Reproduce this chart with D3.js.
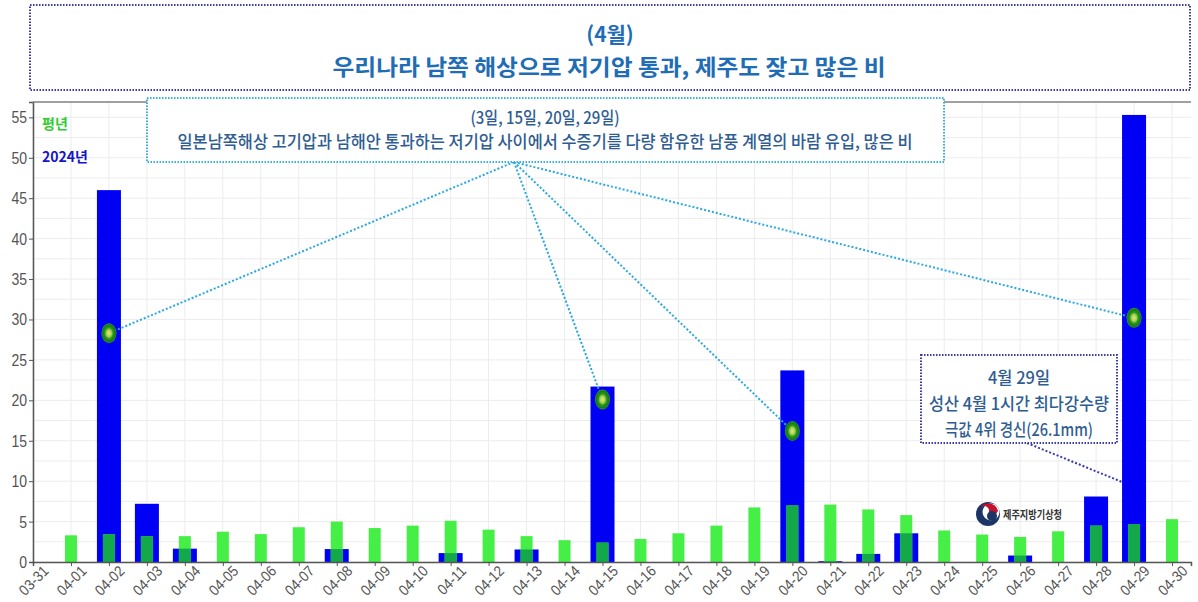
<!DOCTYPE html>
<html>
<head>
<meta charset="utf-8">
<script src="https://cdn.jsdelivr.net/npm/d3@7"></script>
<style>
  body { margin: 0; background: #fff; }
  svg { display: block; }
</style>
</head>
<body>
<svg id="chart" width="1198" height="602"></svg>
<script>
// ---- data ----
let days = ["03-31", "04-01", "04-02", "04-03", "04-04", "04-05", "04-06", "04-07", "04-08",
  "04-09", "04-10", "04-11", "04-12", "04-13", "04-14", "04-15", "04-16", "04-17", "04-18",
  "04-19", "04-20", "04-21", "04-22", "04-23", "04-24", "04-25", "04-26", "04-27", "04-28",
  "04-29", "04-30"];

// bars start at 04-01
let barDays = days.slice(1);
let normalRain = [3.3, 3.45, 3.2, 3.2, 3.75, 3.45, 4.3, 5.0, 4.2, 4.5, 5.1, 4.0, 3.2, 2.7, 2.4,
  2.85, 3.55, 4.5, 6.75, 7.0, 7.1, 6.5, 5.8, 3.9, 3.4, 3.1, 3.8, 4.5, 4.7, 5.3];
let rain2024 = [0, 46.0, 7.2, 1.65, 0, 0, 0, 1.6, 0, 0, 1.1, 0, 1.55, 0, 21.7,
  0, 0, 0, 0, 23.7, 0.1, 1.0, 3.55, 0, 0, 0.8, 0, 8.1, 55.3, 0];

let yTicks = [0, 5, 10, 15, 20, 25, 30, 35, 40, 45, 50, 55];

// highlighted days (marker points)
let markerDays = ["04-02", "04-15", "04-20", "04-29"];
let markerValues = [28.3, 20.1, 16.2, 30.2];

let titleLines = ["(4월)", "우리나라 남쪽 해상으로 저기압 통과, 제주도 잦고 많은 비"];
let noteLines = ["(3일, 15일, 20일, 29일)",
  "일본남쪽해상 고기압과 남해안 통과하는 저기압 사이에서 수증기를 다량 함유한 남풍 계열의 바람 유입, 많은 비"];
let recordLines = ["4월 29일", "성산 4월 1시간 최다강수량", "극값 4위 경신(26.1mm)"];
let legendLabels = ["평년", "2024년"];

// ---- setup ----
let svg = d3.select("#chart");
let plotLeft = 33, plotRight = 1191, plotTop = 102, plotBottom = 562;
let axisFont = "'Liberation Sans', Arial, sans-serif";
let korean = "'Noto Sans CJK KR', 'Noto Sans', sans-serif";

let x = d3.scaleLinear().domain([0, 30.5]).range([plotLeft, plotRight]);
let y = d3.scaleLinear().domain([0, 56.9]).range([plotBottom, plotTop]);
let xi = d => days.indexOf(d);

// grid
let grid = svg.append("g");
grid.selectAll("line.h")
  .data(d3.range(0, 57, 2.5))
  .enter().append("line")
  .attr("x1", plotLeft).attr("x2", plotRight)
  .attr("y1", d => y(d)).attr("y2", d => y(d))
  .attr("stroke", "#ececec").attr("stroke-width", 1);
grid.selectAll("line.v")
  .data(days)
  .enter().append("line")
  .attr("x1", d => x(xi(d))).attr("x2", d => x(xi(d)))
  .attr("y1", plotTop).attr("y2", plotBottom)
  .attr("stroke", "#ececec").attr("stroke-width", 1);

// 2024 bars (blue, wide)
let rows = barDays.map((d, i) => ({ day: d, normal: normalRain[i], now: rain2024[i] }));

svg.append("g").selectAll("rect")
  .data(rows.filter(r => r.now > 0))
  .enter().append("rect")
  .attr("x", d => x(xi(d.day)) - 12)
  .attr("width", 24)
  .attr("y", d => y(d.now))
  .attr("height", d => y(0) - y(d.now))
  .attr("fill", "#0000f5");

// normal bars (green, narrow)
svg.append("g").selectAll("rect")
  .data(rows)
  .enter().append("rect")
  .attr("x", d => x(xi(d.day)) - 6)
  .attr("width", 12)
  .attr("y", d => y(d.normal))
  .attr("height", d => y(0) - y(d.normal))
  .attr("fill", "#46ef46");

// darker green where normal overlaps the 2024 bar
svg.append("g").selectAll("rect")
  .data(rows.filter(r => r.now > 0))
  .enter().append("rect")
  .attr("x", d => x(xi(d.day)) - 6)
  .attr("width", 12)
  .attr("y", d => y(Math.min(d.now, d.normal)))
  .attr("height", d => y(0) - y(Math.min(d.now, d.normal)))
  .attr("fill", "#13a84a");

// axes
let yAxis = svg.append("g")
  .attr("transform", `translate(${plotLeft},0)`)
  .call(d3.axisLeft(y).tickValues(yTicks).tickSize(4).tickPadding(2));
yAxis.select(".domain").attr("stroke", "#555").attr("stroke-width", 1.5);
yAxis.selectAll(".tick line").attr("stroke", "#555");
yAxis.selectAll("text")
  .attr("font-family", axisFont).attr("font-size", 17).attr("fill", "#555")
  .attr("textLength", d => String(d).length * 7.8)
  .attr("lengthAdjust", "spacingAndGlyphs");

let xAxis = svg.append("g")
  .attr("transform", `translate(0,${plotBottom})`)
  .call(d3.axisBottom(x).tickValues(days.map(xi)).tickFormat(i => days[i]).tickSize(4));
xAxis.select(".domain").attr("stroke", "#555").attr("stroke-width", 1.5);
xAxis.selectAll(".tick line").attr("stroke", "#555");
xAxis.selectAll("text")
  .attr("font-family", axisFont).attr("font-size", 15).attr("fill", "#555")
  .attr("text-anchor", "end")
  .attr("transform", "translate(16,10) rotate(-45) scale(0.9,1)")
  .attr("x", 0).attr("y", 0).attr("dy", 0);

// top frame line
svg.append("line")
  .attr("x1", plotLeft).attr("x2", plotRight).attr("y1", plotTop).attr("y2", plotTop)
  .attr("stroke", "#808080").attr("stroke-width", 1.5);

// legend
svg.append("text").text(legendLabels[0])
  .attr("x", 42).attr("y", 129)
  .attr("font-family", korean).attr("font-weight", 700).attr("font-size", 14)
  .attr("fill", "#30cc30");
svg.append("text").text(legendLabels[1])
  .attr("x", 42).attr("y", 162)
  .attr("font-family", korean).attr("font-weight", 700).attr("font-size", 14)
  .attr("fill", "#1414c8");

// title box
svg.append("rect")
  .attr("x", 30).attr("y", 5).attr("width", 1160).attr("height", 85)
  .attr("fill", "#fff").attr("stroke", "#3a3aa8").attr("stroke-width", 2)
  .attr("stroke-dasharray", "1.5,1.5");
svg.append("text").text(titleLines[0])
  .attr("x", 610).attr("y", 42)
  .attr("text-anchor", "middle")
  .attr("font-family", korean).attr("font-weight", 700).attr("font-size", 21)
  .attr("fill", "#1f6db5");
svg.append("text").text(titleLines[1])
  .attr("x", 609).attr("y", 75)
  .attr("text-anchor", "middle")
  .attr("textLength", 553).attr("lengthAdjust", "spacingAndGlyphs")
  .attr("font-family", korean).attr("font-weight", 700).attr("font-size", 22)
  .attr("fill", "#1f6db5");

// annotation: leader lines to markers
let anchor = [514, 162];
let notes = svg.append("g");
notes.selectAll("line")
  .data(markerDays.map((d, i) => ({ day: d, v: markerValues[i] })))
  .enter().append("line")
  .attr("x1", anchor[0]).attr("y1", anchor[1])
  .attr("x2", d => x(xi(d.day))).attr("y2", d => y(d.v))
  .attr("stroke", "#2aa9e0").attr("stroke-width", 2)
  .attr("stroke-dasharray", "2,2");

// markers
let defs = svg.append("defs");
let grad = defs.append("radialGradient").attr("id", "mk");
grad.append("stop").attr("offset", "0%").attr("stop-color", "#dbe88c");
grad.append("stop").attr("offset", "35%").attr("stop-color", "#a9cf4a");
grad.append("stop").attr("offset", "55%").attr("stop-color", "#2c9a20");
grad.append("stop").attr("offset", "85%").attr("stop-color", "#137a12");
grad.append("stop").attr("offset", "100%").attr("stop-color", "#3c9c2c");
svg.append("g").selectAll("ellipse")
  .data(markerDays.map((d, i) => ({ day: d, v: markerValues[i] })))
  .enter().append("ellipse")
  .attr("cx", d => x(xi(d.day)))
  .attr("cy", d => y(d.v))
  .attr("rx", 7.5).attr("ry", 10)
  .attr("fill", "url(#mk)");

// annotation box 1
notes.append("rect")
  .attr("x", 147).attr("y", 98).attr("width", 797).attr("height", 64)
  .attr("fill", "#fff").attr("stroke", "#3ab0de").attr("stroke-width", 2)
  .attr("stroke-dasharray", "1.5,1.5");
notes.append("text").text(noteLines[0])
  .attr("x", 545).attr("y", 124)
  .attr("text-anchor", "middle")
  .attr("textLength", 149).attr("lengthAdjust", "spacingAndGlyphs")
  .attr("font-family", korean).attr("font-weight", 500).attr("font-size", 17)
  .attr("fill", "#2f5d92");
notes.append("text").text(noteLines[1])
  .attr("x", 545).attr("y", 148)
  .attr("text-anchor", "middle")
  .attr("textLength", 735).attr("lengthAdjust", "spacingAndGlyphs")
  .attr("font-family", korean).attr("font-weight", 500).attr("font-size", 17)
  .attr("fill", "#2f5d92");

// annotation box 2 (record)
svg.append("line")
  .attr("x1", 1027).attr("y1", 443)
  .attr("x2", x(xi("04-29")) - 12).attr("y2", 482)
  .attr("stroke", "#3a3aa8").attr("stroke-width", 2)
  .attr("stroke-dasharray", "2,2");
svg.append("rect")
  .attr("x", 921).attr("y", 355).attr("width", 196).attr("height", 88)
  .attr("fill", "#fff").attr("stroke", "#3a3aa8").attr("stroke-width", 2)
  .attr("stroke-dasharray", "1.5,1.5");
let recWidths = [62, 180, 148];
svg.append("g").selectAll("text")
  .data(recordLines)
  .enter().append("text")
  .text(d => d)
  .attr("x", 1019)
  .attr("y", (d, i) => 384 + i * 26)
  .attr("text-anchor", "middle")
  .attr("textLength", (d, i) => recWidths[i]).attr("lengthAdjust", "spacingAndGlyphs")
  .attr("font-family", korean).attr("font-weight", 500).attr("font-size", 17)
  .attr("fill", "#2f5d92");

// agency logo
let logo = svg.append("g").attr("transform", "translate(988,514)");
logo.append("circle").attr("r", 12).attr("fill", "#1b3566");
logo.append("circle").attr("cx", 3).attr("cy", -2).attr("r", 8.5).attr("fill", "#fff");
logo.append("path")
  .attr("d", "M-9,-4 A10,10 0 0 1 10,-3 A5,5 0 0 1 1,-2 A5,5 0 0 0 -9,-4 Z")
  .attr("fill", "#c8102e");
logo.append("circle").attr("cx", 4).attr("cy", 2).attr("r", 5).attr("fill", "#1b3566");
svg.append("text").text("제주지방기상청")
  .attr("x", 1003).attr("y", 519)
  .attr("textLength", 59).attr("lengthAdjust", "spacingAndGlyphs")
  .attr("font-family", korean).attr("font-weight", 700).attr("font-size", 11)
  .attr("fill", "#333");
</script>
</body>
</html>
